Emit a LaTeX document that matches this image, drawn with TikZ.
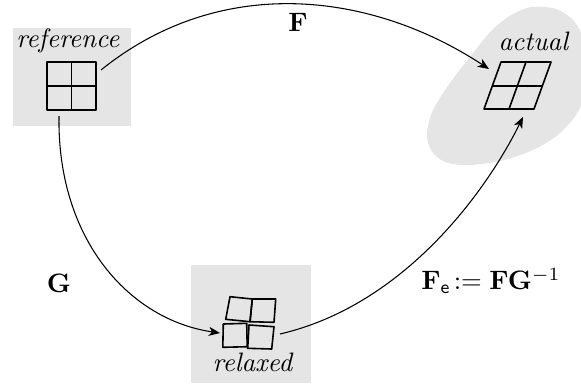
\documentclass[tikz,border=0pt]{standalone}
\usetikzlibrary{arrows.meta}
\begin{document}
\begin{tikzpicture}[x=0.375pt,y=-0.375pt,
  panel/.style={fill=black!10,draw=none},
  gridline/.style={line width=0.6pt,line join=round},
  conn/.style={line width=0.4pt,-{Stealth[length=4.2pt,width=3.4pt,inset=1.2pt]}},
  lbl/.style={inner sep=0pt}]
\useasboundingbox (0,0) rectangle (581,383);
% panels
\node[panel,minimum width=44.6pt,minimum height=37.1pt,inner sep=0pt,anchor=north west] (refbox) at (12,27) {};
\node[panel,minimum width=45pt,minimum height=44.6pt,inner sep=0pt,anchor=north west] (relbox) at (190,264) {};
\begin{scope}
\clip (0,0) rectangle (581,383);
\fill[black!10] plot[smooth cycle,tension=0.55] coordinates {(532,7) (556,9) (574,21) (584,42) (587,75) (580,108) (560,133) (533,150) (500,161) (468,165) (445,162) (431,150) (427,133) (433,110) (450,83) (470,57) (492,30) (513,14)};
\end{scope}
% texts
\node[lbl] (reftxt) at (68,41) {\textit{reference}};
\node[lbl] (acttxt) at (534,41) {\textit{actual}};
\node[lbl] (reltxt) at (253,362) {\textit{relaxed}};
% reference grid
\node[draw,gridline,minimum width=18.4pt,minimum height=18.1pt,inner sep=0pt] (refgrid) at (71.5,86) {};
\draw[gridline] (refgrid.north) -- (refgrid.south) (refgrid.west) -- (refgrid.east);
% actual grid (sheared)
\coordinate (aTL) at (501,62); \coordinate (aTR) at (551,62);
\coordinate (aBR) at (534,109); \coordinate (aBL) at (484,109);
\draw[gridline] (aTL) -- (aTR) -- (aBR) -- (aBL) -- cycle;
\draw[gridline] (492.5,86) -- (542.5,86) (526,62) -- (509,109);
% relaxed cells
\draw[gridline] (230,296.7) -- (252.3,299) -- (250,321.7) -- (225.7,319.3) -- cycle;
\draw[gridline] (252.3,299) -- (275.7,299) -- (274,322.3) -- (250,321.7) -- cycle;
\draw[gridline] (223.3,324) -- (246.7,323.3) -- (247.2,346.7) -- (222.8,347.3) -- cycle;
\draw[gridline] (249,325) -- (274,326.7) -- (271.7,349) -- (247.7,348.3) -- cycle;
% connector endpoints
\coordinate (Fs) at (101,70);
\coordinate (Fe) at (489,69);
\coordinate (Gs) at (59,116);
\coordinate (Ge) at (220,333);
\coordinate (Es) at (280,334);
\coordinate (Ee) at (523,117);
% connectors
\draw[conn] (Fs) .. controls (220,-26) and (370,-9) .. (Fe);
\draw[conn] (Gs) .. controls (57,240) and (130,320) .. (Ge);
\draw[conn] (Es) .. controls (405,305) and (487,190) .. (Ee);
% labels
\node[lbl] (Flbl) at (298,22) {$\mathbf{F}$};
\node[lbl] (Glbl) at (59,283) {$\mathbf{G}$};
\node[lbl] (Elbl) at (491,281) {$\mathbf{F}_{\mathsf{e}}\!\mathrel{:=}\mathbf{F}\mathbf{G}^{-1}$};
\end{tikzpicture}
\end{document}
